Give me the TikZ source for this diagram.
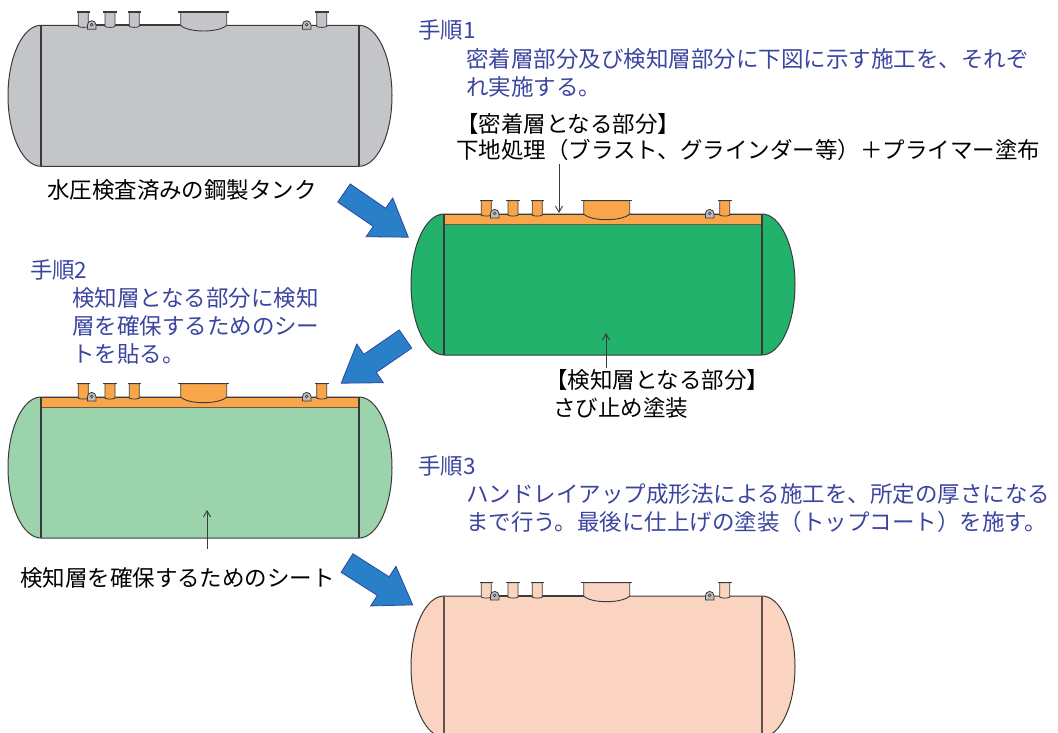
\documentclass[tikz,border=0pt]{standalone}
\usepackage{fontspec}
\setmainfont{Noto Sans CJK JP}
\usetikzlibrary{arrows.meta}

\definecolor{stepblue}{HTML}{3B45A0}
\definecolor{outline}{HTML}{3A3A3A}
\definecolor{steelgray}{HTML}{C4C5C9}
\definecolor{rustgreen}{HTML}{22B26B}
\definecolor{sheetgreen}{HTML}{9BD3AD}
\definecolor{topcoat}{HTML}{FBD3C1}
\definecolor{primer}{HTML}{F9A64A}
\definecolor{luggray}{HTML}{BDBDBD}
\definecolor{bandedge}{HTML}{6E5A44}
\definecolor{arrowblue}{HTML}{2A7FC9}
\definecolor{arrowedge}{HTML}{2C4A9E}

\newcommand\jpsize{\fontsize{22.5pt}{28pt}\selectfont}

% #1 origin (top-left of cylindrical shell), #2 shell fill, #3 seam colour,
% #4 fitting fill, #5 1 = primer band along the top
\newcommand\drawtank[5]{%
\begin{scope}[shift={#1}]
  \filldraw[fill=#2, draw=outline, line width=1pt]
    (0,0) -- (318,0) arc[start angle=-90, end angle=90, x radius=33, y radius=70.5]
    -- (0,141) arc[start angle=90, end angle=270, x radius=33, y radius=70.5] -- cycle;
  \ifnum#5=1
    \filldraw[fill=#4, draw=bandedge, line width=1pt] (0,0) rectangle (318,10.2);
    \draw[outline, line width=1pt] (0,0) -- (318,0);
  \else
    \draw[outline, line width=1.9pt] (47,0) -- (140,0);
  \fi
  \draw[#3, line width=1.4pt] (0,0) -- (0,141) (318,0) -- (318,141);
  % nozzles
  \foreach \nx in {37.3,64,88.3,275.7}{
    \filldraw[fill=#4, draw=outline, line width=0.8pt]
      (\nx,1.2) -- (\nx,-13.3) -- (\nx+10,-13.3) -- (\nx+10,1.2)
      .. controls (\nx+7,2.4) and (\nx+3,2.4) .. (\nx,1.2) -- cycle;
    \draw[outline, line width=1.3pt] (\nx-1.8,-13.3) -- (\nx+11.8,-13.3);
  }
  % manway
  \filldraw[fill=#4, draw=outline, line width=0.9pt]
    (139.7,0) -- (139.7,-13.3) -- (185.7,-13.3) -- (185.7,0)
    .. controls (178,7.6) and (147,7.6) .. (139.7,0) -- cycle;
  \draw[outline, line width=1.3pt] (137.3,-13.3) -- (188.3,-13.3);
  % lifting lugs
  \foreach \lx in {50.7,265.7}{
    \filldraw[fill=luggray, draw=outline, line width=0.8pt]
      (\lx-4.3,4) -- (\lx-4.3,-0.3) arc[start angle=180, end angle=360, radius=4.3]
      -- (\lx+4.3,4) -- cycle;
    \draw[outline, line width=0.6pt] (\lx,-0.6) circle[radius=1.4];
  }
\end{scope}}

\tikzset{
  stepnote/.style={text=stepblue},
  tag/.style={text=black},
  notearrow/.style={draw=outline, line width=0.9pt, -{Straight Barb[length=6pt,width=7pt]}},
  bigarrow/.pic={
    \filldraw[fill=arrowblue, draw=arrowedge, line width=0.8pt]
      (0,-11) -- (43,-11) -- (43,-23.5) -- (78,0) -- (43,23.5) -- (43,11) -- (0,11) -- cycle;
  }
}

\begin{document}
\begin{tikzpicture}[x=1pt, y=-1pt,
  every node/.style={inner sep=0pt, outer sep=0pt, anchor=base west, font=\jpsize}]
\useasboundingbox (0,0) rectangle (1058,733);
\clip (0,0) rectangle (1058,733);

% tanks at each stage
\drawtank{(41,25.3)}{steelgray}{outline}{steelgray}{0}
\drawtank{(444,214)}{rustgreen}{outline}{primer}{1}
\drawtank{(41,397)}{sheetgreen}{outline}{primer}{1}
\drawtank{(444,596)}{topcoat}{outline!60!topcoat!70!black}{topcoat}{0}

% process arrows
\pic[rotate=-34.5] at (344,193) {bigarrow};
\pic[rotate=214.5] at (405.5,339) {bigarrow};
\pic[rotate=-32.5] at (347,563) {bigarrow};

% step descriptions
\node[stepnote] (s1)  at (418,38.5)  {手順1};
\node[stepnote] (s1a) at (466,67.5)  {密着層部分及び検知層部分に下図に示す施工を、それぞ};
\node[stepnote] (s1b) at (466,95.5)  {れ実施する。};
\node[stepnote] (s2)  at (30,278.5)  {手順2};
\node[stepnote] (s2a) at (72,306.5)  {検知層となる部分に検知};
\node[stepnote] (s2b) at (72,334.5)  {層を確保するためのシー};
\node[stepnote] (s2c) at (72,362.5)  {トを貼る。};
\node[stepnote] (s3)  at (418,474.5) {手順3};
\node[stepnote] (s3a) at (466,502.5) {ハンドレイアップ成形法による施工を、所定の厚さになる};
\node[stepnote] (s3b) at (466,530.5) {まで行う。最後に仕上げの塗装（トップコート）を施す。};

% labels
\node[tag] (adh)   at (456,132.5) {【密着層となる部分】};
\node[tag] (prim)  at (456,158.5) {下地処理（ブラスト、グラインダー等）＋プライマー塗布};
\node[tag] (steel) at (47,198.5)  {水圧検査済みの鋼製タンク};
\node[tag] (det)   at (545,388.5) {【検知層となる部分】};
\node[tag] (rust)  at (553,416.5) {さび止め塗装};
\node[tag] (sheet) at (20,586.5)  {検知層を確保するためのシート};

% leader arrows
\coordinate (a1foot) at (559,164);
\coordinate (a1tip)  at (559,213);
\coordinate (a2foot) at (606,368);
\coordinate (a2tip)  at (606,333);
\coordinate (a3foot) at (207,549);
\coordinate (a3tip)  at (207,510);
\draw[notearrow] (a1foot) -- (a1tip);
\draw[notearrow] (a2foot) -- (a2tip);
\draw[notearrow] (a3foot) -- (a3tip);
\end{tikzpicture}
\end{document}
